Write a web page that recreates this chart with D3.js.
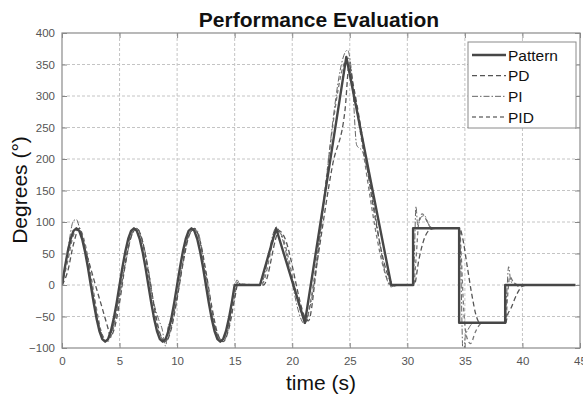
<!DOCTYPE html>
<html><head><meta charset="utf-8">
<script src="https://cdn.jsdelivr.net/npm/d3@7"></script>
<style>
body{margin:0;background:#fff;}
svg{display:block;font-family:"Liberation Sans",Arial,sans-serif;}
</style></head>
<body>
<svg id="c" width="583" height="398"></svg>
<script>
const xTicks = [0,5,10,15,20,25,30,35,40,45];
const yTicks = [-100,-50,0,50,100,150,200,250,300,350,400];
const seriesNames = ["Pattern","PD","PI","PID"];

const pattern = [
[0,0],[0.25,28],[0.5,53],[0.75,73],[1,86],[1.25,90],[1.5,86],[1.75,73],[2,53],[2.25,28],[2.5,0],[2.75,-28],[3,-53],[3.25,-73],[3.5,-86],[3.75,-90],[4,-86],[4.25,-73],[4.5,-53],[4.75,-28],
[5,0],[5.25,28],[5.5,53],[5.75,73],[6,86],[6.25,90],[6.5,86],[6.75,73],[7,53],[7.25,28],[7.5,0],[7.75,-28],[8,-53],[8.25,-73],[8.5,-86],[8.75,-90],[9,-86],[9.25,-73],[9.5,-53],[9.75,-28],
[10,0],[10.25,28],[10.5,53],[10.75,73],[11,86],[11.25,90],[11.5,86],[11.75,73],[12,53],[12.25,28],[12.5,0],[12.75,-28],[13,-53],[13.25,-73],[13.5,-86],[13.75,-90],[14,-86],[14.25,-73],[14.5,-53],[14.75,-28],
[15,0],[17.2,0],[18.6,90],[21.1,-60],[24.7,362],[28.6,0],[30.5,0],[30.5,90],[34.5,90],[34.5,-60],[38.5,-60],[38.5,0],[44.6,0]
];

const pd = [
[0,0],[0.5,22],[1,65],[1.5,90],[2,58],[2.5,26],[3,-6],[3.5,-37],[4,-69],[4.2,-82],[4.5,-72],[5,-28],[5.5,33],[6,76],[6.5,90],[7,69],[7.5,22],[8,-33],[8.5,-76],[9,-90],[9.5,-69],[10,-22],[10.5,33],[11,76],[11.5,90],[12,69],[12.5,22],[13,-33],[13.5,-76],[14,-90],[14.5,-69],[15,-22],[15.3,3],[15.6,0],
[17.5,0],[18.9,86],[19.2,80],[21.4,-57],[22.2,40],[23.5,190],[24.6,280],[24.95,350],[25.3,318],[28.9,0],[30.6,0],
[31,40],[31.5,75],[32,88],[32.5,90],[34.55,90],[34.8,75],[35.2,30],[35.6,-15],[36,-50],[36.3,-60],[38.55,-60],[38.7,-48],[39,-37],[39.5,-15],[40,-2],[40.5,0],[44.6,0]
];

const pi = [
[0,0],[0.5,55],[1,102],[1.25,104],[1.5,92],[2,58],[2.5,10],[3,-45],[3.5,-80],[3.75,-88],[4,-86],[4.5,-62],[5,-15],[5.5,32],[6,76],[6.5,90],[7,70],[7.5,25],[8,-30],[8.4,-55],[8.7,-70],[9,-97],[9.25,-63],[9.5,-58],[10,-20],[10.5,35],[11,78],[11.5,88],[11.75,86],[12,72],[12.4,20],[12.7,-20],[13,-45],[13.5,-80],[13.75,-90],[14,-86],[14.5,-62],[15,-5],[15.2,8],[15.5,1],
[17.2,0],[18.65,92],[19,80],[21.1,-62],[21.4,-45],[24.8,373],[25.2,330],[25.6,222],[26.1,212],[26.5,185],[28.6,-3],[29,0],[30.45,0],
[30.6,40],[30.75,125],[30.9,95],[31.2,108],[31.5,110],[31.8,98],[32.2,90],[34.5,90],[34.6,60],[34.85,-115],[35.05,-80],[35.3,-70],[35.6,-62],[36,-60],[38.5,-60],[38.65,-10],[38.8,29],[39,5],[39.3,3],[39.6,-2],[40,0],[44.6,0]
];

const pid = [
[0,0],[0.5,38],[1,79],[1.5,89],[2,66],[2.5,17],[3,-38],[3.5,-79],[4,-89],[4.5,-66],[5,-17],[5.5,38],[6,79],[6.5,89],[7,66],[7.5,17],[8,-38],[8.5,-79],[9,-89],[9.5,-66],[10,-17],[10.5,38],[11,79],[11.5,89],[12,66],[12.5,17],[13,-38],[13.5,-79],[14,-89],[14.5,-66],[15,-17],[15.25,4],[15.5,2],
[17.3,0],[18.75,88],[19,82],[21.25,-58],[21.5,-35],[24.85,360],[25.1,335],[28.75,-2],[29.2,0],[30.55,0],
[30.75,40],[31,100],[31.3,113],[31.6,105],[32,92],[32.4,90],[34.55,90],[34.65,60],[34.9,-40],[35.2,-85],[35.5,-93],[35.9,-75],[36.2,-65],[36.5,-60],[38.55,-60],[38.7,-20],[38.9,13],[39.2,5],[39.6,0],[44.6,0]
];

const L=62,R=580,T=33,B=348;
const svg=d3.select("#c");
const x=d3.scaleLinear().domain([0,45]).range([L,R]);
const y=d3.scaleLinear().domain([-100,400]).range([B,T]);

// grid
const g=svg.append("g");
g.selectAll(".gx").data(xTicks.slice(1,-1)).join("line")
 .attr("x1",d=>x(d)).attr("x2",d=>x(d)).attr("y1",T).attr("y2",B)
 .attr("stroke","#c4c4c4").attr("stroke-dasharray","3,2").attr("stroke-width",1);
g.selectAll(".gy").data(yTicks.slice(1,-1)).join("line")
 .attr("x1",L).attr("x2",R).attr("y1",d=>y(d)).attr("y2",d=>y(d))
 .attr("stroke","#c4c4c4").attr("stroke-dasharray","3,2").attr("stroke-width",1);

// clip
svg.append("clipPath").attr("id","clip").append("rect").attr("x",L).attr("y",T).attr("width",R-L).attr("height",B-T);
const plot=svg.append("g").attr("clip-path","url(#clip)");

const lineLin=d3.line().x(d=>x(d[0])).y(d=>y(d[1]));
const lineSm=d3.line().x(d=>x(d[0])).y(d=>y(d[1])).curve(d3.curveMonotoneX);

const styles={
 Pattern:{data:pattern,gen:lineLin,stroke:"#474747",w:2.4,dash:null},
 PD:{data:pd,gen:lineSm,stroke:"#555",w:1.3,dash:"5,3"},
 PI:{data:pi,gen:lineSm,stroke:"#666",w:1.0,dash:"6,2,1.5,2"},
 PID:{data:pid,gen:lineSm,stroke:"#777",w:1.3,dash:"4,3"}
};
["PID","PI","PD","Pattern"].forEach(n=>{
 const s=styles[n];
 plot.append("path").datum(s.data).attr("d",s.gen).attr("fill","none")
  .attr("stroke",s.stroke).attr("stroke-width",s.w).attr("stroke-dasharray",s.dash)
  .attr("stroke-linejoin","round");
});

// axes
const tickCol="#555";
const ax=svg.append("g").attr("transform",`translate(0,${B})`)
 .call(d3.axisBottom(x).tickValues(xTicks).tickSize(-5).tickPadding(8.5));
const ay=svg.append("g").attr("transform",`translate(${L},0)`)
 .call(d3.axisLeft(y).tickValues(yTicks).tickSize(-5).tickPadding(7));
const axT=svg.append("g").attr("transform",`translate(0,${T})`)
 .call(d3.axisTop(x).tickValues(xTicks).tickSize(-5).tickFormat(""));
const ayR=svg.append("g").attr("transform",`translate(${R},0)`)
 .call(d3.axisRight(y).tickValues(yTicks).tickSize(-5).tickFormat(""));
[ax,ay,axT,ayR].forEach(a=>{
 a.select(".domain").remove();
 a.selectAll("line").attr("stroke","#888");
 a.selectAll("text").attr("fill",tickCol).style("font-size","11.5px").style("font-family","'Liberation Sans',Arial,sans-serif");
});
svg.append("rect").attr("x",L).attr("y",T).attr("width",R-L).attr("height",B-T)
 .attr("fill","none").attr("stroke","#8a8a8a").attr("stroke-width",1.2);

// title & labels
svg.append("text").attr("x",(L+R)/2-2).attr("y",27).attr("text-anchor","middle")
 .style("font-size","21px").style("font-weight","bold").attr("fill","#111").text("Performance Evaluation");
svg.append("text").attr("x",(L+R)/2).attr("y",390).attr("text-anchor","middle")
 .style("font-size","21px").attr("fill","#111").text("time (s)");
svg.append("text").attr("transform","translate(27,190) rotate(-90)").attr("text-anchor","middle")
 .style("font-size","21px").attr("fill","#111").text("Degrees (°)");

// legend
const lg=svg.append("g");
lg.append("rect").attr("x",468).attr("y",42).attr("width",108).attr("height",86)
 .attr("fill","#fff").attr("stroke","#8a8a8a").attr("stroke-width",1);
const ly=d3.scalePoint().domain(seriesNames).range([55,117]);
seriesNames.forEach(n=>{
 const s=styles[n];
 lg.append("line").attr("x1",472).attr("x2",506).attr("y1",ly(n)).attr("y2",ly(n))
  .attr("stroke",s.stroke).attr("stroke-width",s.w).attr("stroke-dasharray",s.dash);
 lg.append("text").attr("x",508).attr("y",ly(n)).attr("dy","0.36em")
  .style("font-size","15.5px").attr("fill","#111").text(n);
});
</script>
</body></html>
